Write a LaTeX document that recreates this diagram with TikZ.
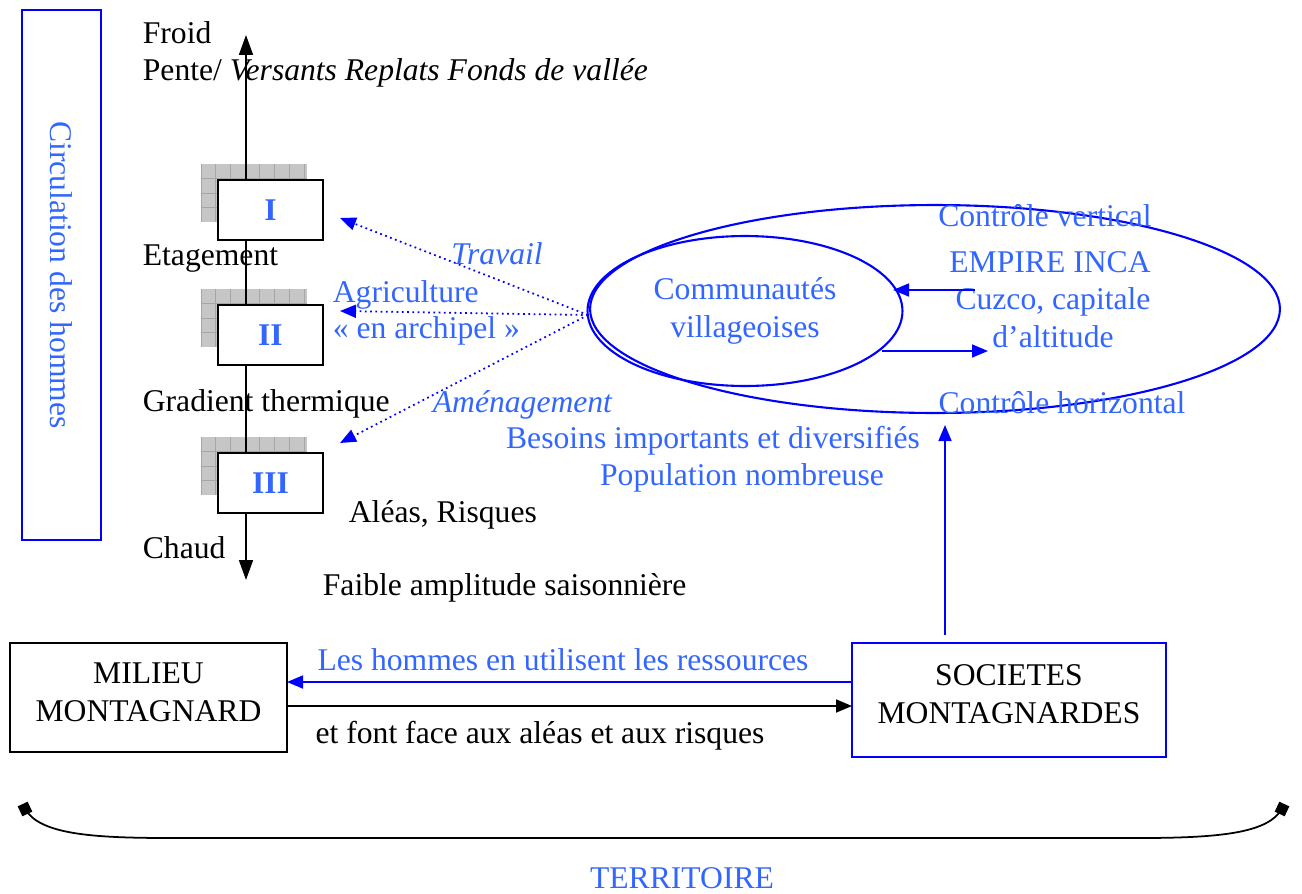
\documentclass[tikz,border=0pt]{standalone}
\usepackage{fontspec}
\setmainfont{Liberation Serif}
\usetikzlibrary{arrows.meta,shapes.geometric}
\definecolor{txtblue}{RGB}{51,102,255}
\definecolor{lineblue}{RGB}{0,0,255}
\tikzset{
  txt/.style={inner sep=0pt, font=\fontsize{18}{21.5}\selectfont, align=center},
  btxt/.style={txt, text=txtblue},
  tip/.style={-{Triangle[length=0.32cm, width=0.26cm]}},
  tierbox/.style={draw, line width=1pt, fill=white, minimum width=2.1cm, minimum height=1.2cm,
    text=txtblue, font=\fontsize{18}{21}\selectfont\bfseries},
  endsq/.style={fill, inner sep=0pt, minimum size=0.22cm},
}
\begin{document}
\begin{tikzpicture}[x=0.02cm, y=-0.02cm, line width=1pt]
    \useasboundingbox (0,0) rectangle (1302,893);
    % circulation
    \node[draw=lineblue, rotate=-90, minimum width=10.6cm, minimum height=1.58cm, btxt] (circ) at (61.5,275) {Circulation des hommes};
    % shadows of the tiers
    \foreach \yy in {164, 289, 437} {
        \fill[gray!45] (201,\yy) rectangle (307,\yy+58);
        \foreach \k in {0,...,7} \draw[gray!70, line width=0.4pt] (201+14.7*\k,\yy) -- (201+14.7*\k,\yy+58);
        \foreach \k in {1,...,3} \draw[gray!70, line width=0.4pt] (201,\yy+14.5*\k) -- (307,\yy+14.5*\k);
    }
    % axis
    \coordinate (axtop) at (246,35);
    \coordinate (axbot) at (246,580);
    \draw[{Triangle[length=0.4cm, width=0.28cm]}-{Triangle[length=0.4cm, width=0.28cm]}] (axbot) -- (axtop);
    \node[tierbox] (t1) at (270.5,210) {I};
    \node[tierbox] (t2) at (270.5,335) {II};
    \node[tierbox] (t3) at (270.5,483) {III};
    \node[txt, anchor=west] (froid) at (142,33) {Froid};
    \node[txt, anchor=west] (pente) at (142,73) {Pente/ \textit{Versants Replats Fonds de vallée}};
    \node[txt, anchor=west] (etag) at (142,259) {Etagement};
    \node[txt, anchor=west] (grad) at (142,404) {Gradient thermique};
    \node[txt, anchor=west] (chaud) at (142,548) {Chaud};
    \node[txt, anchor=west] (aleas) at (348,515) {Aléas, Risques};
    \node[txt, anchor=west] (faible) at (322,588) {Faible amplitude saisonnière};
    % ellipses
    \node[draw=lineblue, ellipse, line width=1.2pt, minimum width=13.8cm, minimum height=4.16cm] (inca) at (935,309) {};
    \node[draw=lineblue, ellipse, line width=1.2pt, minimum width=6.3cm, minimum height=3cm, btxt] (comm) at (745,311) {Communautés\\villageoises};
    \node[btxt] (cvert) at (1045,216) {Contrôle vertical};
    \node[btxt] (empire) at (1050,262) {EMPIRE INCA};
    \node[btxt] (cuzco) at (1053,318) {Cuzco, capitale\\d’altitude};
    \node[btxt] (chor) at (1062,403) {Contrôle horizontal};
    \coordinate (in1) at (975,290);
    \coordinate (in2) at (893,290);
    \coordinate (out1) at (882,351);
    \coordinate (out2) at (988,351);
    \draw[lineblue, tip] (in1) -- (in2);
    \draw[lineblue, tip] (out1) -- (out2);
    % dotted links to the tiers
    \coordinate (src) at (588,315);
    \coordinate (e1) at (340,218);
    \coordinate (e2) at (340,311);
    \coordinate (e3) at (340,443);
    \draw[lineblue, dotted, tip] (src) -- (e1);
    \draw[lineblue, dotted, tip] (src) -- (e2);
    \draw[lineblue, dotted, tip] (src) -- (e3);
    \node[btxt, font=\fontsize{18}{21.5}\selectfont\itshape] (trav) at (497,254) {Travail};
    \node[btxt, anchor=west] (agri) at (332,295) {Agriculture};
    \node[btxt, anchor=west] (archi) at (332,331) {« en archipel »};
    \node[btxt, anchor=west, font=\fontsize{18}{21.5}\selectfont\itshape] (amen) at (432,405) {Aménagement};
    \node[btxt] (besoins) at (713,441) {Besoins importants et diversifiés};
    \node[btxt] (pop) at (742,478) {Population nombreuse};
    % bottom boxes
    \node[draw, minimum width=5.54cm, minimum height=2.18cm] (mil) at (148.5,697.5) {};
    \node[txt] (miltxt) at (148.5,692) {MILIEU\\MONTAGNARD};
    \node[draw=lineblue, minimum width=6.28cm, minimum height=2.28cm] (soc) at (1009,700) {};
    \node[txt] (soctxt) at (1009,694) {SOCIETES\\MONTAGNARDES};
    \coordinate (up1) at (945,635);
    \coordinate (up2) at (945,425);
    \draw[lineblue, tip] (up1) -- (up2);
    \coordinate (r1) at (852,682);
    \coordinate (l1) at (287,682);
    \coordinate (l2) at (287,706);
    \coordinate (r2) at (852,706);
    \draw[lineblue, tip] (r1) -- (l1);
    \draw[tip] (l2) -- (r2);
    \node[btxt] (res) at (563,660) {Les hommes en utilisent les ressources};
    \node[txt] (face) at (540,736) {et font face aux aléas et aux risques};
    % territoire
    \coordinate (bl) at (25,809);
    \coordinate (br) at (1282,809);
    \draw (bl) .. controls (40,834) and (90,838) .. (170,838) -- (1140,838) .. controls (1225,838) and (1268,832) .. (br);
    \node[endsq, rotate=25] at (bl) {};
    \node[endsq, rotate=-25] at (br) {};
    \node[btxt] (terr) at (682,878) {TERRITOIRE};
\end{tikzpicture}
\end{document}
